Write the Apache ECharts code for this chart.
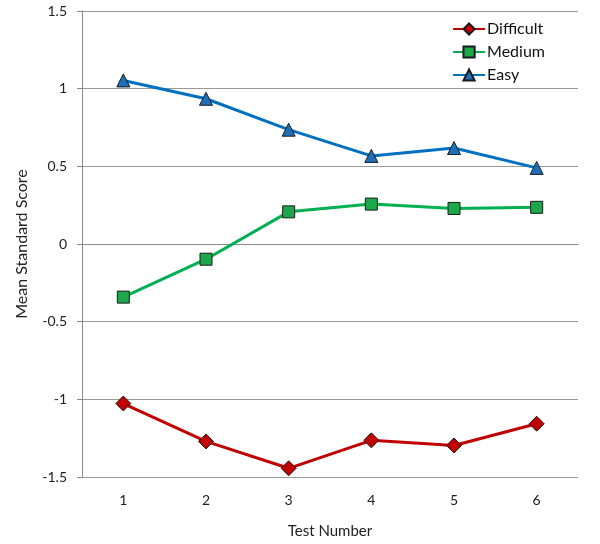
<!DOCTYPE html>
<html>
<head>
<meta charset="utf-8">
<script src="https://cdn.jsdelivr.net/npm/echarts@6/dist/echarts.min.js"></script>
<style>
  html, body { margin: 0; padding: 0; background: #fff; }
  #chart { width: 600px; height: 544px; }
</style>
</head>
<body>
<div id="chart"></div>
<script>
const tests = ['1', '2', '3', '4', '5', '6'];
const difficult = [-1.027, -1.271, -1.444, -1.264, -1.297, -1.157];
const medium = [-0.342, -0.098, 0.207, 0.257, 0.229, 0.236];
const easy = [1.053, 0.935, 0.736, 0.567, 0.618, 0.49];

const font = 'Lato, "Open Sans", sans-serif';

function line(name, data, color, markColor, symbol, size) {
  return {
    name: name,
    type: 'line',
    data: data,
    symbol: symbol,
    symbolSize: size,
    lineStyle: { color: color, width: 3 },
    itemStyle: { color: markColor, borderColor: '#1a1a1a', borderWidth: 1 },
    z: 3
  };
}

const chart = echarts.init(document.getElementById('chart'));
chart.setOption({
  animation: false,
  textStyle: { fontFamily: font },
  grid: { left: 82, right: 22, top: 11, bottom: 66 },
  legend: {
    orient: 'vertical',
    right: 50,
    top: 16,
    itemWidth: 32,
    itemHeight: 14,
    itemGap: 7,
    textStyle: { fontSize: 16, color: '#111', fontFamily: font, padding: [0, 0, 0, -3] },
    data: ['Difficult', 'Medium', 'Easy']
  },
  xAxis: {
    type: 'category',
    data: tests,
    name: 'Test Number',
    nameLocation: 'middle',
    nameGap: 47,
    nameTextStyle: { fontSize: 15, color: '#222' },
    axisLine: { lineStyle: { color: '#888', width: 1 } },
    axisTick: { inside: false, length: 5, lineStyle: { color: '#888' } },
    axisLabel: { fontSize: 14, color: '#222', margin: 16 }
  },
  yAxis: {
    type: 'value',
    min: -1.5,
    max: 1.5,
    interval: 0.5,
    name: 'Mean Standard Score',
    nameLocation: 'middle',
    nameGap: 52,
    nameRotate: 90,
    nameTextStyle: { fontSize: 16, color: '#222' },
    axisLine: { show: true, lineStyle: { color: '#888', width: 1 } },
    axisTick: { show: true, length: 5, lineStyle: { color: '#888' } },
    axisLabel: { fontSize: 14, color: '#222', margin: 15 },
    splitLine: { lineStyle: { color: '#999', width: 1 } }
  },
  series: [
    line('Difficult', difficult, '#c00000', '#c00000', 'diamond', 15),
    line('Medium', medium, '#00b050', '#1ca84a', 'rect', 12),
    line('Easy', easy, '#0070c0', '#1f6fb8', 'triangle', 13)
  ]
});
</script>
</body>
</html>
